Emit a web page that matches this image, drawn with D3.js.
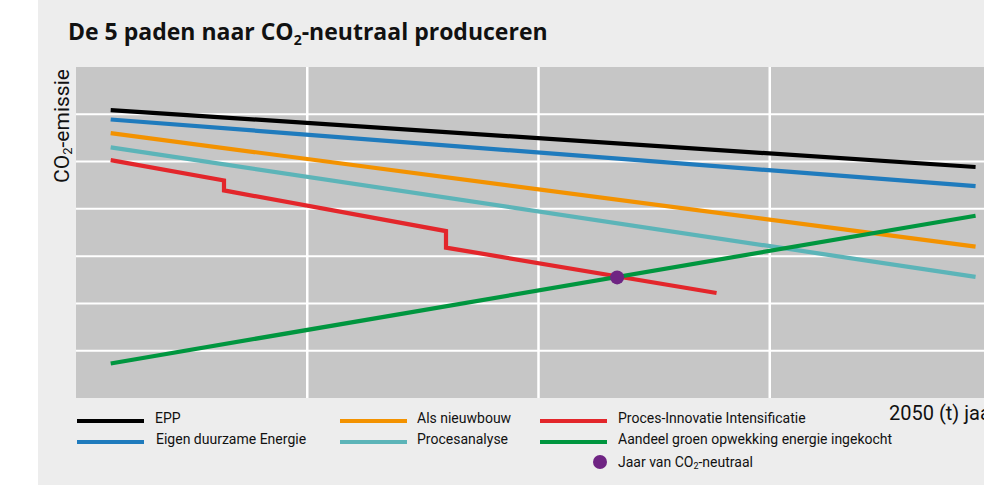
<!DOCTYPE html>
<html>
<head>
<meta charset="utf-8">
<script src="https://cdn.jsdelivr.net/npm/d3@7"></script>
<style>
  body { margin: 0; background: #fff; }
  svg { display: block; font-family: Roboto, "Open Sans", sans-serif; }
</style>
</head>
<body>
<div id="chart"></div>
<script>
// Series (x = jaar, y = CO2-emissie in gridline units)
const seriesNames = ["EPP", "Eigen duurzame Energie", "Als nieuwbouw", "Procesanalyse",
                     "Proces-Innovatie Intensificatie", "Aandeel groen opwekking energie ingekocht"];
const seriesColors = ["#000000", "#1f7bbd", "#f39200", "#5cb4b8", "#e3262b", "#00963f"];

const eppValues = [[2011.5, 6.09], [2048.9, 4.885]];
const duurzaamValues = [[2011.5, 5.89], [2048.9, 4.48]];
const nieuwbouwValues = [[2011.5, 5.60], [2048.9, 3.20]];
const procesanalyseValues = [[2011.5, 5.30], [2048.9, 2.56]];
const innovatieValues = [[2011.5, 5.03], [2016.4, 4.60], [2016.4, 4.39],
                         [2026.0, 3.53], [2026.0, 3.18], [2037.7, 2.22]];
const groenValues = [[2011.5, 0.73], [2048.9, 3.855]];
const neutraalPoint = [2033.4, 2.55];

const xGridTicks = [2020, 2030, 2040];
const yGridTicks = [1, 2, 3, 4, 5, 6];

const allSeries = [eppValues, duurzaamValues, nieuwbouwValues, procesanalyseValues, innovatieValues, groenValues];

const W = 984, H = 485;
const plot = { left: 76, top: 67, bottom: 398 };

const svg = d3.select("#chart").append("svg")
    .attr("width", W)
    .attr("height", H);

// panel background
svg.append("rect")
    .attr("x", 38).attr("y", 0)
    .attr("width", W - 38).attr("height", H)
    .attr("fill", "#ededed");

// plot area
svg.append("rect")
    .attr("x", plot.left).attr("y", plot.top)
    .attr("width", W - plot.left).attr("height", plot.bottom - plot.top)
    .attr("fill", "#c6c6c6");

const x = d3.scaleLinear().domain([2010, 2050]).range([plot.left, 1001]);
const y = d3.scaleLinear().domain([0, 7]).range([plot.bottom, plot.top]);

// grid lines
svg.selectAll(".hgrid")
    .data(yGridTicks)
    .enter().append("line")
    .attr("x1", plot.left).attr("x2", W)
    .attr("y1", d => y(d)).attr("y2", d => y(d))
    .attr("stroke", "#fff")
    .attr("stroke-width", 2);

svg.selectAll(".vgrid")
    .data(xGridTicks)
    .enter().append("line")
    .attr("x1", d => x(d)).attr("x2", d => x(d))
    .attr("y1", plot.top).attr("y2", plot.bottom)
    .attr("stroke", "#fff")
    .attr("stroke-width", 2.5);

// series lines
const line = d3.line().x(d => x(d[0])).y(d => y(d[1]));

svg.selectAll(".series")
    .data(allSeries)
    .enter().append("path")
    .attr("d", line)
    .attr("fill", "none")
    .attr("stroke", (d, i) => seriesColors[i])
    .attr("stroke-width", 4.2);

// CO2-neutral point
svg.append("circle")
    .attr("cx", x(neutraalPoint[0]))
    .attr("cy", y(neutraalPoint[1]))
    .attr("r", 7)
    .attr("fill", "#6f2483");

// title
const title = svg.append("text")
    .attr("x", 68).attr("y", 40)
    .attr("font-family", "'Open Sans', sans-serif")
    .attr("font-size", 23)
    .attr("font-weight", "bold")
    .attr("fill", "#111");
title.append("tspan").text("De 5 paden naar CO");
title.append("tspan").attr("font-size", 14).attr("dy", 5).text("2");
title.append("tspan").attr("dy", -5).text("-neutraal produceren");

// y label
const yLabel = svg.append("text")
    .attr("transform", "translate(69,126) rotate(-90)")
    .attr("text-anchor", "middle")
    .attr("font-size", 21)
    .attr("fill", "#111");
yLabel.append("tspan").text("CO");
yLabel.append("tspan").attr("font-size", 13).attr("dy", 3).text("2");
yLabel.append("tspan").attr("dy", -3).text("-emissie");

// x label
svg.append("text")
    .attr("x", 889).attr("y", 420)
    .attr("font-size", 20)
    .attr("fill", "#111")
    .text("2050 (t) jaar");

// legend
const legendPos = [
    { x: 77, y: 421, tx: 155 },
    { x: 77, y: 442, tx: 156 },
    { x: 340, y: 421, tx: 417 },
    { x: 340, y: 442, tx: 417 },
    { x: 540, y: 421, tx: 618 },
    { x: 540, y: 442, tx: 618 }
];

const legend = svg.selectAll(".legend")
    .data(seriesNames)
    .enter().append("g")
    .attr("transform", (d, i) => "translate(" + legendPos[i].x + "," + legendPos[i].y + ")");

legend.append("line")
    .attr("x1", 0).attr("x2", 67)
    .attr("stroke", (d, i) => seriesColors[i])
    .attr("stroke-width", 4);

legend.append("text")
    .attr("x", (d, i) => legendPos[i].tx - legendPos[i].x)
    .attr("y", 1.5)
    .attr("font-size", 14)
    .attr("fill", "#111")
    .text(d => d);

svg.append("circle")
    .attr("cx", 600).attr("cy", 462)
    .attr("r", 7)
    .attr("fill", "#6f2483");

const dotLabel = svg.append("text")
    .attr("x", 618).attr("y", 467)
    .attr("font-size", 14)
    .attr("fill", "#111");
dotLabel.append("tspan").text("Jaar van CO");
dotLabel.append("tspan").attr("font-size", 9).attr("dy", 2).text("2");
dotLabel.append("tspan").attr("dy", -2).text("-neutraal");
</script>
</body>
</html>
